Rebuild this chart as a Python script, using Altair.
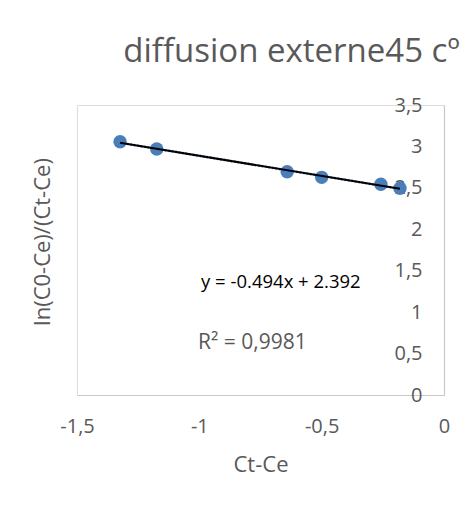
import altair as alt
import pandas as pd

# data
x_vals = [-1.324, -1.174, -0.641, -0.500, -0.258, -0.180]
y_vals = [3.057, 2.969, 2.695, 2.627, 2.543, 2.495]

title_text = "diffusion externe45 cº"
x_title = "Ct-Ce"
y_title = "ln(C0-Ce)/(Ct-Ce)"
eq_text = "y = -0.494x + 2.392"
r2_text = "R² = 0,9981"
ann_x = [-0.993, -1.005]
ann_y = [1.364, 0.628]
x_ticks = [-1.5, -1.0, -0.5, 0.0]
y_ticks = [0, 0.5, 1, 1.5, 2, 2.5, 3, 3.5]

FONT = "Open Sans"
GRAY = "#595959"
BLUE = "#4a7ebb"

df = pd.DataFrame({"x": x_vals, "y": y_vals})
eq_df = pd.DataFrame({"x": ann_x[:1], "y": ann_y[:1], "t": [eq_text]})
r2_df = pd.DataFrame({"x": ann_x[1:], "y": ann_y[1:], "t": [r2_text]})

W, H = 367, 290

xs = alt.Scale(domain=[-1.5, 0], nice=False, zero=False)
ys = alt.Scale(domain=[0, 3.5], nice=False)

label_expr = "replace(toString(datum.value), '.', ',')"

xenc = alt.X(
    "x:Q", scale=xs,
    axis=alt.Axis(values=x_ticks, labelExpr=label_expr, grid=False, ticks=False,
                  labelFlush=False, labelOverlap=False,
                  domainColor="#c8c8c8", domainWidth=1.2, labelColor=GRAY,
                  labelFont=FONT, labelFontSize=20, labelPadding=21,
                  title=x_title, titleFont=FONT, titleFontSize=22, titleColor=GRAY,
                  titleFontWeight="normal", titlePadding=18),
)
yenc = alt.Y(
    "y:Q", scale=ys,
    axis=alt.Axis(values=y_ticks, labelExpr=label_expr, grid=False, ticks=False,
                  labelFlush=False, labelOverlap=False,
                  orient="left", offset=-W,
                  domainColor="#c8c8c8", domainWidth=1.2, labelColor=GRAY,
                  labelFont=FONT, labelFontSize=20, labelPadding=22, title=None),
)

base = alt.Chart(df)

dotted = base.transform_regression("x", "y").mark_line(
    color=BLUE, strokeWidth=2.5, strokeDash=[1.5, 2]
).encode(x=xenc, y=yenc)

points = base.mark_circle(size=180, color=BLUE, opacity=1).encode(x=xenc, y=yenc)

trend = base.transform_regression("x", "y").mark_line(
    color="black", strokeWidth=2
).encode(x=xenc, y=yenc)

eq_label = alt.Chart(eq_df).mark_text(
    align="left", baseline="middle", font=FONT, fontSize=18.5, color="#000000"
).encode(x=alt.X("x:Q", scale=xs), y=alt.Y("y:Q", scale=ys), text="t:N")

r2_label = alt.Chart(r2_df).mark_text(
    align="left", baseline="middle", font=FONT, fontSize=21, color=GRAY
).encode(x=alt.X("x:Q", scale=xs), y=alt.Y("y:Q", scale=ys), text="t:N")

ytitle = alt.Chart(pd.DataFrame({"t": [y_title]})).mark_text(
    angle=270, font=FONT, fontSize=22, color=GRAY, align="center", baseline="middle"
).encode(x=alt.value(-34), y=alt.value(137), text="t:N")

chart = alt.layer(dotted, points, trend, eq_label, r2_label, ytitle).properties(
    width=W, height=H,
    title=alt.TitleParams(title_text, font=FONT, fontSize=33, fontWeight="normal",
                          color=GRAY, anchor="middle", dx=31, offset=0,
                          baseline="alphabetic"),
    autosize=alt.AutoSizeParams(type="none"),
    padding={"left": 69, "top": 97, "right": 17, "bottom": 100},
).configure_view(stroke=None).configure(background="white")

chart.save("out.html", embed_options={"renderer": "svg", "actions": False})
